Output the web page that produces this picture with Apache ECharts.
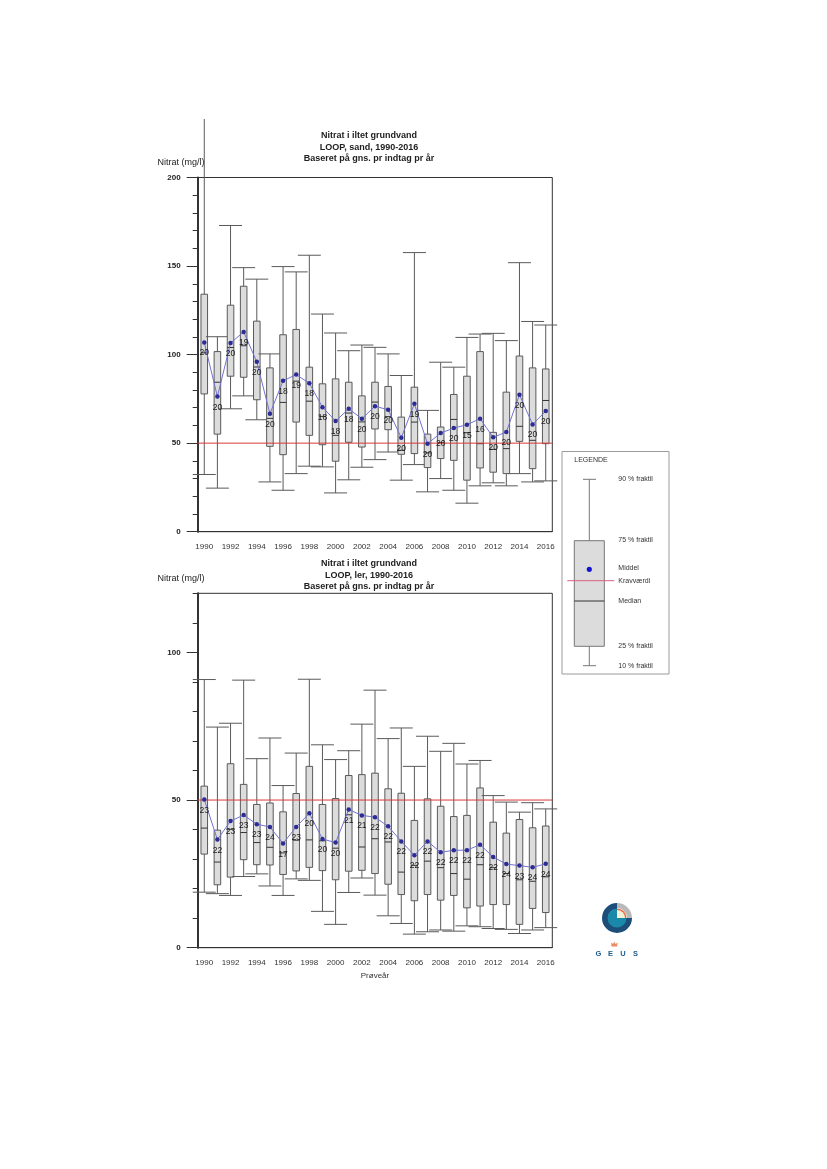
<!DOCTYPE html>
<html><head><meta charset="utf-8">
<script src="https://cdn.jsdelivr.net/npm/echarts@6.0.0/dist/echarts.min.js"></script>
<style>html,body{margin:0;padding:0;background:#fff}#c{width:827px;height:1169px}</style>
</head><body><div id="c"></div>
<script>
const years = ['1990','1991','1992','1993','1994','1995','1996','1997','1998','1999','2000','2001','2002','2003','2004','2005','2006','2007','2008','2009','2010','2011','2012','2013','2014','2015','2016'];
const yTicksSand = [0, 50, 100, 150, 200];
const yTicksLer = [0, 50, 100];
const kravvaerdi = 50;

// LOOP, sand
const sandP10 = [32.3,24.6,69.4,76.7,63.2,28.1,23.4,32.8,37.0,36.6,21.9,29.3,36.4,40.7,45.0,29.1,37.9,22.5,30.0,23.4,16.1,25.9,27.6,25.9,32.8,28.1,28.7];
const sandP25 = [77.8,55.1,87.8,87.2,74.5,48.2,43.5,61.9,54.4,49.1,39.8,50.5,47.8,58.0,57.6,43.7,44.1,36.2,41.3,40.3,29.1,36.0,33.6,32.8,51.0,35.6,49.7];
const sandMedian = [101,84.4,104,105,93,64,73,85,73.7,65.1,54.4,67,62,73.2,65,46,61.9,44.5,50.3,63.4,55.9,49.7,46.5,46.9,59.5,51.6,74.1];
const sandP75 = [134.1,101.7,127.9,138.6,118.9,92.5,111.2,114.2,92.9,83.5,86.3,84.4,76.7,84.4,82.0,64.7,81.6,55.1,59.1,77.5,87.8,101.7,56.1,78.8,99.2,92.5,91.9];
const sandP90 = [233,110.1,172.9,149.1,142.6,100.4,149.7,146.7,156.1,122.9,112.2,102.2,105.4,104.1,100.4,88.2,157.6,68.5,95.7,92.9,109.7,111.6,112,107.9,151.9,118.7,116.7];
const sandMean = [106.9,76.3,106.5,112.8,95.9,66.6,85.2,88.7,83.8,70.3,62.5,69.4,63.8,70.9,68.8,53.1,72.2,49.7,55.7,58.5,60.4,63.8,53.3,56.3,77.3,60.6,68.1];
const sandN = [20,20,20,19,20,20,18,19,18,18,18,18,20,20,20,20,19,20,20,20,15,16,20,20,20,20,20];

// LOOP, ler
const lerP10 = [18.8,18.3,17.7,24.1,25.0,20.9,17.7,23.3,22.8,12.3,7.9,18.7,23.6,17.8,10.8,8.2,4.6,5.4,6.0,5.6,7.4,7.1,6.5,6.2,4.8,6.0,6.8];
const lerP25 = [31.7,21.3,23.9,29.8,28.1,28.0,24.8,26.0,27.2,26.1,23.0,25.9,26.2,25.1,21.5,18.0,15.9,18.0,16.1,17.7,13.5,14.1,14.6,14.6,7.9,13.3,11.9];
const lerMedian = [40.5,29,40.1,39.0,35.6,34.0,32.1,36.4,36.5,36.2,33.7,45,34.1,36.9,35.8,25.6,27.9,29.3,27.1,25.1,23.2,28.1,27.1,25.1,23,22.5,24.0];
const lerP75 = [54.7,39.8,62.3,55.3,48.5,49.0,46.0,52.2,61.4,48.5,50.5,58.3,58.6,59.1,53.8,52.3,43.1,50.4,47.9,44.4,44.8,54.1,42.5,38.8,43.4,40.6,41.2];
const lerP90 = [90.8,74.7,76.0,90.6,64.0,71.0,54.9,65.9,90.9,68.7,63.7,66.7,75.7,87.2,70.8,74.4,61.4,71.6,66.5,69.2,62.2,63.4,51.5,49.3,45.9,49.1,47.0];
const lerMean = [50.2,36.6,42.9,44.9,41.8,40.9,35.3,40.9,45.5,36.8,35.6,46.8,44.8,44.2,41.1,36.0,31.3,36.0,32.3,33.0,33.0,34.9,30.7,28.3,27.8,27.2,28.4];
const lerN = [23,22,23,23,23,24,17,23,20,20,20,21,21,22,22,22,22,22,22,22,22,22,22,24,23,24,24];

const FONT = 'Liberation Sans, Arial, sans-serif';
const boxData = (p10, p25, med, p75, p90) => years.map((y, i) => [i, p10[i], p25[i], med[i], p75[i], p90[i]]);

function boxRender(params, api) {
  const i = api.value(0);
  const pLo = api.coord([i, api.value(1)]);
  const pQ1 = api.coord([i, api.value(2)]);
  const pMed = api.coord([i, api.value(3)]);
  const pQ3 = api.coord([i, api.value(4)]);
  const pHi = api.coord([i, api.value(5)]);
  const step = api.size([1, 0])[0];
  const bw = step * 0.5, cw = step * 1.75;
  const cx = pLo[0];
  const top = params.coordSys.y;
  const ln = {stroke: '#5a5a5a', lineWidth: 1};
  const ch = [
    {type: 'line', shape: {x1: cx, y1: pHi[1], x2: cx, y2: pLo[1]}, style: ln},
    {type: 'line', shape: {x1: cx - cw / 2, y1: pLo[1], x2: cx + cw / 2, y2: pLo[1]}, style: ln}
  ];
  if (pHi[1] >= top - 0.5) ch.push({type: 'line', shape: {x1: cx - cw / 2, y1: pHi[1], x2: cx + cw / 2, y2: pHi[1]}, style: ln});
  ch.push({type: 'rect', shape: {x: cx - bw / 2, y: pQ3[1], width: bw, height: pQ1[1] - pQ3[1]}, style: {fill: '#dcdcdc', stroke: '#5a5a5a', lineWidth: 1}});
  ch.push({type: 'line', shape: {x1: cx - bw / 2, y1: pMed[1], x2: cx + bw / 2, y2: pMed[1]}, style: {stroke: '#333', lineWidth: 1}});
  return {type: 'group', children: ch};
}

// horizontal Kravværdi line across the whole plot area
function kravRender(params, api) {
  const cs = params.coordSys;
  const y = api.coord([0, api.value(0)])[1];
  return {type: 'line', shape: {x1: cs.x, y1: y, x2: cs.x + cs.width, y2: y},
    style: {stroke: '#d83a3a', lineWidth: 1}};
}

function xAxisCfg(g) {
  return {
    type: 'category', gridIndex: g, data: years, boundaryGap: true,
    axisLine: {lineStyle: {color: '#333', width: 1}},
    axisTick: {alignWithLabel: true, interval: 0, length: 5, lineStyle: {color: '#333'}},
    axisLabel: {interval: 1, fontSize: 8, color: '#333', margin: 11, fontFamily: FONT},
    splitLine: {show: false}
  };
}
function yMinor(g, max) {
  return {type: 'value', gridIndex: g, position: 'left', min: 0, max: max, interval: 10,
    axisLine: {show: true, lineStyle: {color: '#333', width: 2}},
    axisTick: {show: true, length: 5, lineStyle: {color: '#333'}},
    axisLabel: {show: false}, splitLine: {show: false}};
}
function yMajor(g, max, ticks) {
  return {type: 'value', gridIndex: g, position: 'left', min: 0, max: max, interval: 50,
    axisLine: {show: false},
    axisTick: {show: true, length: 11, customValues: ticks, lineStyle: {color: '#333'}},
    axisLabel: {show: true, customValues: ticks, fontSize: 8, fontWeight: 'bold', color: '#222', margin: 17, fontFamily: FONT},
    splitLine: {show: false}};
}
function meanSeries(xi, yi, mean, n) {
  return {
    type: 'line', xAxisIndex: xi, yAxisIndex: yi, data: mean, z: 5,
    symbol: 'circle', symbolSize: 4.5,
    itemStyle: {color: '#2c2c96'},
    lineStyle: {color: '#7272d2', width: 1},
    label: {show: true, position: 'bottom', distance: 4, fontSize: 8.5, color: '#1a1a1a', fontFamily: FONT,
      formatter: p => String(n[p.dataIndex])}
  };
}

const T = (text, x, y, o) => Object.assign({type: 'text', x: x, y: y, style: Object.assign({text: text, fontSize: 9, fontFamily: FONT, fill: '#222', align: 'left', verticalAlign: 'middle'}, o || {})});

const legendItems = [
  ['90 % fraktil', 479.3], ['75 % fraktil', 539.7], ['Middel', 568.5], ['Kravværdi', 581],
  ['Median', 600.7], ['25 % fraktil', 645.7], ['10 % fraktil', 665.7]
];

const graphics = [
  T('Nitrat i iltet grundvand', 369, 135.7, {fontWeight: 'bold', align: 'center'}),
  T('LOOP, sand, 1990-2016', 369, 147.3, {fontWeight: 'bold', align: 'center'}),
  T('Baseret på gns. pr indtag pr år', 369, 159, {fontWeight: 'bold', align: 'center'}),
  T('Nitrat (mg/l)', 157.5, 162.5),
  T('Nitrat i iltet grundvand', 369, 564, {fontWeight: 'bold', align: 'center'}),
  T('LOOP, ler, 1990-2016', 369, 575.7, {fontWeight: 'bold', align: 'center'}),
  T('Baseret på gns. pr indtag pr år', 369, 587, {fontWeight: 'bold', align: 'center'}),
  T('Nitrat (mg/l)', 157.5, 579),
  T('Prøveår', 375, 976, {fontSize: 8, align: 'center', fill: '#333'}),
  // legend box
  {type: 'rect', shape: {x: 562, y: 451.5, width: 107, height: 222.5}, style: {fill: '#fff', stroke: '#9a9a9a', lineWidth: 1}},
  T('LEGENDE', 591, 460, {fontSize: 7, align: 'center', fill: '#333'}),
  {type: 'line', shape: {x1: 589.3, y1: 479.3, x2: 589.3, y2: 665.7}, style: {stroke: '#777', lineWidth: 1}},
  {type: 'line', shape: {x1: 583, y1: 479.3, x2: 596, y2: 479.3}, style: {stroke: '#777', lineWidth: 1}},
  {type: 'line', shape: {x1: 583, y1: 665.7, x2: 596, y2: 665.7}, style: {stroke: '#777', lineWidth: 1}},
  {type: 'rect', shape: {x: 574.3, y: 540.7, width: 30, height: 105.6}, style: {fill: '#dcdcdc', stroke: '#777', lineWidth: 1}},
  {type: 'line', shape: {x1: 574.3, y1: 601, x2: 604.3, y2: 601}, style: {stroke: '#333', lineWidth: 1}},
  {type: 'circle', shape: {cx: 589.3, cy: 569.3, r: 2.6}, style: {fill: '#1414d8'}},
  {type: 'line', shape: {x1: 567.3, y1: 580.7, x2: 614.3, y2: 580.7}, style: {stroke: '#d8607e', lineWidth: 1}},
  // GEUS logo
  {type: 'sector', shape: {cx: 617, cy: 918, r: 15, r0: 10, startAngle: -Math.PI / 2, endAngle: 0}, style: {fill: '#b9b9b9'}},
  {type: 'sector', shape: {cx: 617, cy: 918, r: 15, r0: 9, startAngle: 0, endAngle: 1.5 * Math.PI}, style: {fill: '#1c4e79'}},
  {type: 'sector', shape: {cx: 617, cy: 918, r: 9.5, r0: 0, startAngle: 0, endAngle: 1.5 * Math.PI}, style: {fill: '#1a89a9'}},
  {type: 'sector', shape: {cx: 617, cy: 918, r: 9.5, r0: 0, startAngle: -Math.PI / 2, endAngle: 0}, style: {fill: '#e8663a'}},
  {type: 'sector', shape: {cx: 617, cy: 918, r: 8, r0: 0, startAngle: -Math.PI / 2, endAngle: 0}, style: {fill: '#f5f0d8'}},
  {type: 'polygon', shape: {points: [[611.5, 946.5], [611, 942.5], [613, 944], [614.3, 941.8], [615.6, 944], [617.6, 942.5], [617.1, 946.5]]}, style: {fill: '#ec8a64'}},
  T('G', 598.5, 953.5, {fontSize: 7.5, fontWeight: 'bold', fill: '#1d5a8a', align: 'center'}),
  T('E', 610.5, 953.5, {fontSize: 7.5, fontWeight: 'bold', fill: '#1d5a8a', align: 'center'}),
  T('U', 623, 953.5, {fontSize: 7.5, fontWeight: 'bold', fill: '#1d5a8a', align: 'center'}),
  T('S', 635.5, 953.5, {fontSize: 7.5, fontWeight: 'bold', fill: '#1d5a8a', align: 'center'})
];
legendItems.forEach(([t, y]) => graphics.push(T(t, 618.3, y, {fontSize: 7, fill: '#333'})));

const chart = echarts.init(document.getElementById('c'));
chart.setOption({
  animation: false,
  backgroundColor: '#fff',
  grid: [
    {left: 197.7, top: 177.5, width: 354.6, height: 354.2, show: true, borderColor: '#333', borderWidth: 1, backgroundColor: 'transparent'},
    {left: 197.7, top: 593.3, width: 354.6, height: 354.4, show: true, borderColor: '#333', borderWidth: 1, backgroundColor: 'transparent'}
  ],
  xAxis: [xAxisCfg(0), xAxisCfg(1)],
  yAxis: [yMinor(0, 200), yMajor(0, 200, yTicksSand), yMinor(1, 120), yMajor(1, 120, yTicksLer)],
  series: [
    {type: 'custom', xAxisIndex: 0, yAxisIndex: 0, renderItem: boxRender, data: boxData(sandP10, sandP25, sandMedian, sandP75, sandP90), encode: {x: 0, y: [1, 2, 3, 4, 5]}, clip: false, z: 2},
    {type: 'custom', xAxisIndex: 0, yAxisIndex: 0, renderItem: kravRender, data: [[kravvaerdi]], encode: {y: 0}, z: 4, silent: true},
    meanSeries(0, 0, sandMean, sandN),
    {type: 'custom', xAxisIndex: 1, yAxisIndex: 2, renderItem: boxRender, data: boxData(lerP10, lerP25, lerMedian, lerP75, lerP90), encode: {x: 0, y: [1, 2, 3, 4, 5]}, clip: false, z: 2},
    {type: 'custom', xAxisIndex: 1, yAxisIndex: 2, renderItem: kravRender, data: [[kravvaerdi]], encode: {y: 0}, z: 4, silent: true},
    meanSeries(1, 2, lerMean, lerN)
  ],
  graphic: graphics
});
</script></body></html>
